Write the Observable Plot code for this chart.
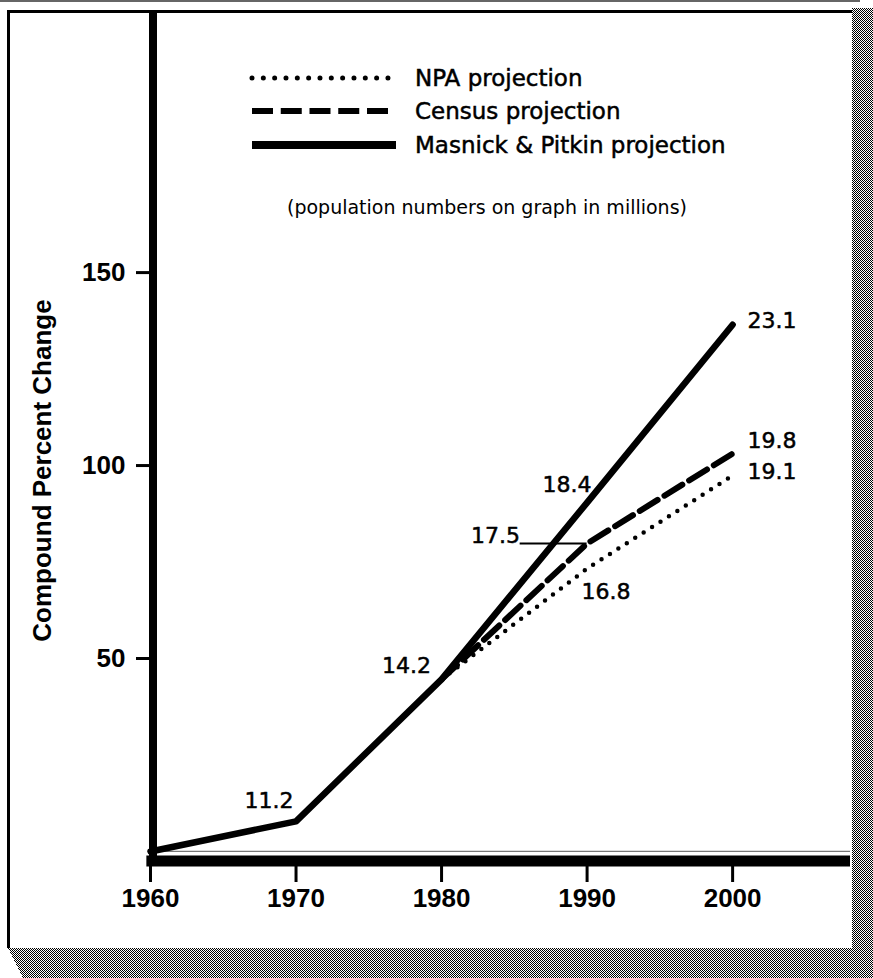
<!DOCTYPE html>
<html>
<head>
<meta charset="utf-8">
<script src="https://cdn.jsdelivr.net/npm/d3@7"></script>
<script src="https://cdn.jsdelivr.net/npm/@observablehq/plot@0.6"></script>
<style>
  html, body { margin: 0; padding: 0; background: #fff; }
  #wrap { position: relative; width: 873px; height: 978px; overflow: hidden; background: #fff; }
  #chart, #overlay { position: absolute; left: 0; top: 0; }
  #overlay { pointer-events: none; }
  .frame { position: absolute; left: 7px; top: 10px; width: 845px; height: 938px;
           border-left: 3px solid #000; border-top: 3px solid #000; box-sizing: border-box; }
  .topline { position: absolute; left: 0; top: 0; width: 860px; height: 2px; background: #666; }
  #chart g[aria-label="x-axis tick label"] text,
  #chart g[aria-label="y-axis tick label"] text { font-weight: bold; }
</style>
</head>
<body>
<div id="wrap">
  <div id="chart"></div>
  <div class="topline"></div>
  <div class="frame"></div>
  <svg id="overlay" width="873" height="978"></svg>
</div>
<script>
// ---- data ----
const years = [1960, 1970, 1980, 1990, 2000];
const masnickPct = [0, 7.8, 44.6, 90.4, 136.5];
const masnickPop = [null, "11.2", "14.2", "18.4", "23.1"];

const projYears = [1980, 1990, 2000];
const censusPct = [44.6, 79.8, 103.1];
const censusPop = [null, "17.5", "19.8"];
const npaPct = [44.6, 73.3, 97.4];
const npaPop = [null, "16.8", "19.1"];

const xTicks = [1960, 1970, 1980, 1990, 2000];
const yTicks = [50, 100, 150];

const legendLabels = ["NPA projection", "Census projection", "Masnick & Pitkin projection"];
const noteText = "(population numbers on graph in millions)";
const yLabel = "Compound Percent Change";

// ---- tables ----
const masnickRows = years.map((year, i) => ({year, pct: masnickPct[i], pop: masnickPop[i]}));
const censusRows = projYears.map((year, i) => ({year, pct: censusPct[i], pop: censusPop[i]}));
const npaRows = projYears.map((year, i) => ({year, pct: npaPct[i], pop: npaPop[i]}));

const xDomain = [1960, 2008.1];
const yDomain = [-3.9, 217.4];
const labelFont = {fontFamily: "'DejaVu Sans', sans-serif", fontSize: 22, fill: "#000", stroke: "#000", strokeWidth: 0.5};
const lab = (rows, i, opts) => Plot.text([rows[i]], {x: "year", y: "pct", text: "pop", ...labelFont, ...opts});

const chart = Plot.plot({
  width: 873,
  height: 978,
  marginLeft: 150,
  marginRight: 23,
  marginTop: 12,
  marginBottom: 112,
  x: {domain: xDomain},
  y: {domain: yDomain},
  style: {background: "transparent", fontFamily: "'Liberation Sans', Arial, sans-serif", color: "#000", overflow: "visible"},
  marks: [
    Plot.ruleY([0], {x1: xDomain[0], x2: xDomain[1], stroke: "#777", strokeWidth: 1.2}),
    Plot.line(npaRows, {x: "year", y: "pct", stroke: "#000", strokeWidth: 4.5, strokeDasharray: "0 10", strokeLinecap: "round"}),
    Plot.line(censusRows, {x: "year", y: "pct", stroke: "#000", strokeWidth: 6, strokeDasharray: "21 8"}),
    Plot.line(masnickRows, {x: "year", y: "pct", stroke: "#000", strokeWidth: 6.5, strokeLinejoin: "round", strokeLinecap: "round"}),
    // axis lines
    Plot.ruleY([-2.45], {x1: 1959.75, x2: xDomain[1], stroke: "#000", strokeWidth: 11}),
    Plot.ruleX([1960], {y1: yDomain[0], y2: yDomain[1], stroke: "#000", strokeWidth: 8, dx: 2.5}),
    Plot.axisX(xTicks, {anchor: "bottom", tickSize: 16, tickPadding: 6, strokeWidth: 3, fontSize: 26, fontWeight: "bold", tickFormat: d => String(d), label: null}),
    Plot.axisY(yTicks, {anchor: "left", tickSize: 14, tickPadding: 11, strokeWidth: 3, fontSize: 26, fontWeight: "bold", label: null}),
    Plot.text([yLabel], {frameAnchor: "left", textAnchor: "middle", dx: -108, dy: 31, rotate: -90, fontSize: 26, fontWeight: "bold", fill: "#000"}),
    // leader for 17.5
    Plot.ruleY([censusRows[1]], {y: "pct", x1: d => d.year - 4.6, x2: "year", stroke: "#000", strokeWidth: 2}),
    // population labels
    lab(masnickRows, 1, {dx: -27, dy: -20}),
    lab(masnickRows, 2, {dx: -35, dy: -13}),
    lab(masnickRows, 3, {dx: -20, dy: -18}),
    lab(masnickRows, 4, {textAnchor: "start", dx: 15, dy: -4}),
    lab(censusRows, 1, {textAnchor: "end", dx: -67, dy: -8}),
    lab(censusRows, 2, {textAnchor: "start", dx: 15, dy: -13}),
    lab(npaRows, 1, {dx: 19, dy: 23}),
    lab(npaRows, 2, {textAnchor: "start", dx: 15, dy: -4})
  ]
});
document.getElementById("chart").append(chart);

// ---- overlay: shadow + legend ----
const ov = d3.select("#overlay");
const pat = ov.append("defs").append("pattern").attr("id", "dither")
  .attr("width", 2).attr("height", 2).attr("patternUnits", "userSpaceOnUse");
pat.append("rect").attr("width", 2).attr("height", 2).attr("fill", "#fff");
pat.append("rect").attr("x", 0).attr("y", 0).attr("width", 1).attr("height", 1).attr("fill", "#000");
pat.append("rect").attr("x", 1).attr("y", 1).attr("width", 1).attr("height", 1).attr("fill", "#000");
ov.append("polygon")
  .attr("points", "852,8 873,8 873,978 23,978 8,948 852,948")
  .attr("fill", "url(#dither)").attr("shape-rendering", "crispEdges");

const legendStyles = [
  {width: 5, dash: "0 11.33", cap: "round", x1: 252, x2: 388},
  {width: 6, dash: "21 7.75", cap: "butt", x1: 252, x2: 388},
  {width: 8, dash: null, cap: "butt", x1: 252, x2: 396}
];
const legendY = [78, 111, 145];
legendLabels.forEach((t, i) => {
  const s = legendStyles[i];
  ov.append("line").attr("x1", s.x1).attr("x2", s.x2).attr("y1", legendY[i]).attr("y2", legendY[i])
    .attr("stroke", "#000").attr("stroke-width", s.width).attr("stroke-linecap", s.cap)
    .attr("stroke-dasharray", s.dash);
  ov.append("text").attr("x", 415).attr("y", legendY[i]).attr("dy", "0.36em")
    .attr("font-family", "'DejaVu Sans', sans-serif").attr("font-size", 23)
    .attr("stroke", "#000").attr("stroke-width", 0.5).attr("fill", "#000").text(t);
});
ov.append("text").attr("x", 487).attr("y", 207).attr("dy", "0.36em").attr("text-anchor", "middle")
  .attr("font-family", "'DejaVu Sans', sans-serif").attr("font-size", 19).attr("fill", "#000").text(noteText);
</script>
</body>
</html>
